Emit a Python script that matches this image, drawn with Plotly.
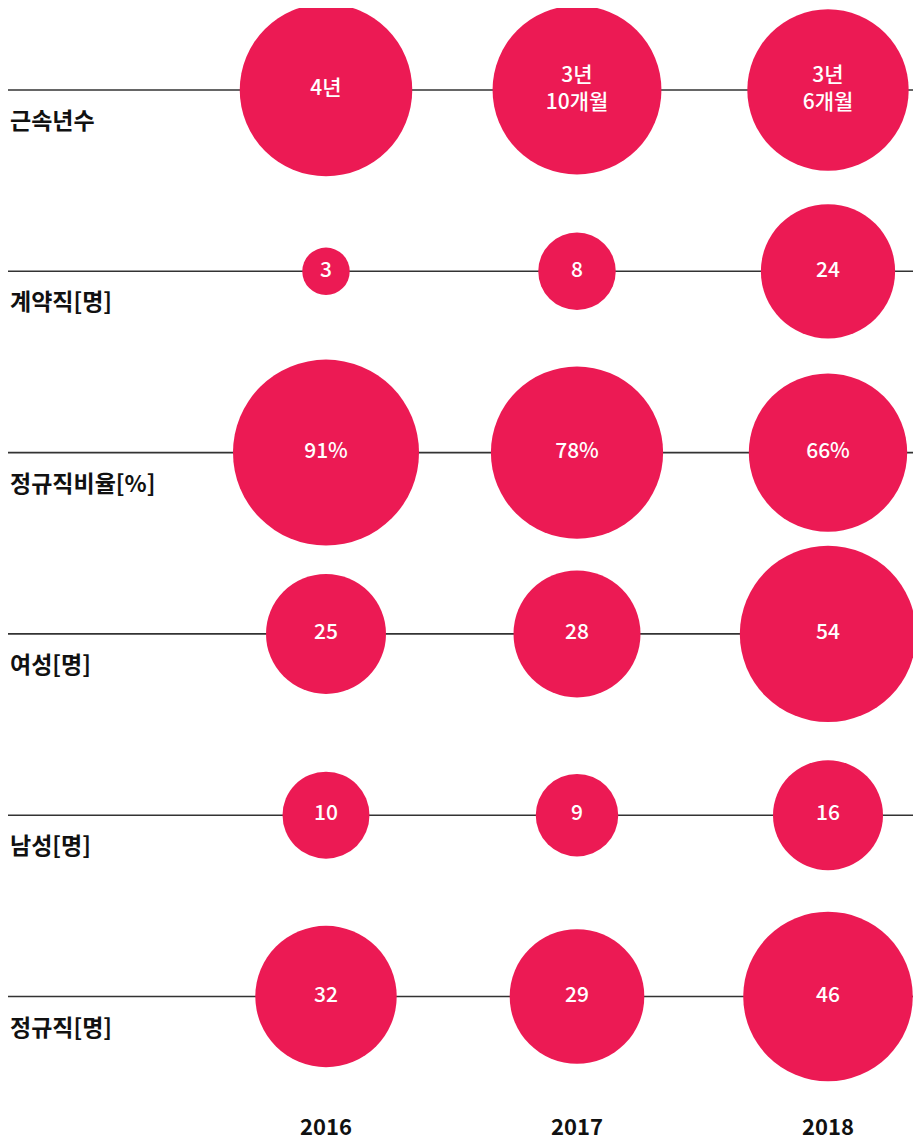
import plotly.graph_objects as go
import math

years = ["2016", "2017", "2018"]
row_labels = ["근속년수", "계약직[명]", "정규직비율[%]", "여성[명]", "남성[명]", "정규직[명]"]
# values (근속년수 in months)
tenure_months = [48, 46, 42]
contract = [3, 8, 24]
regular_ratio = [91, 78, 66]
female = [25, 28, 54]
male = [10, 9, 16]
regular = [32, 29, 46]

tenure_text = ["4년", "3년<br>10개월", "3년<br>6개월"]
contract_text = [str(v) for v in contract]
ratio_text = [f"{v}%" for v in regular_ratio]
female_text = [str(v) for v in female]
male_text = [str(v) for v in male]
regular_text = [str(v) for v in regular]

rows = [
    (tenure_months, tenure_text, 24.9),
    (contract, contract_text, 27.4),
    (regular_ratio, ratio_text, 19.5),
    (female, female_text, 24.0),
    (male, male_text, 27.5),
    (regular, regular_text, 25.0),
]

OFF = 8  # page body margin
W, H = 921 - OFF, 1141 - OFF
col_px = 251.0
row_px = 181.3
x0_px = 326.0 - OFF
y0_px = 90.0 - OFF

COLOR = "#EC1A54"
FONT = "Noto Sans CJK KR"

fig = go.Figure()

xs = [0, 1, 2]
for i, (vals, texts, k) in enumerate(rows):
    sizes = [k * math.sqrt(v) for v in vals]
    fig.add_shape(type="line", xref="paper", yref="y",
                  x0=0, x1=(915 - OFF) / W, y0=i, y1=i,
                  line=dict(color="#333333", width=1.6), layer="below")
    fig.add_trace(go.Scatter(
        x=xs, y=[i] * 3, mode="markers+text",
        marker=dict(size=sizes, sizemode="diameter", color=COLOR,
                    line=dict(width=0), opacity=1),
        text=texts, textposition="middle center",
        textfont=dict(color="white", size=21, family=FONT, weight=500),
        hoverinfo="skip", showlegend=False, cliponaxis=False,
    ))
    fig.add_annotation(xref="paper", yref="y", x=0, y=i,
                       text=f"<b>{row_labels[i]}</b>", showarrow=False,
                       xanchor="left", yanchor="middle", yshift=-29,
                       font=dict(size=23, color="#111111", family=FONT))

for j, yr in enumerate(years):
    fig.add_annotation(x=j, y=5, xref="x", yref="y", text=f"<b>{yr}</b>",
                       showarrow=False, xanchor="center", yanchor="middle",
                       yshift=-(1125 - 997),
                       font=dict(size=22, color="#111111", family=FONT))

fig.update_xaxes(range=[-x0_px / col_px, (W - x0_px) / col_px], visible=False, fixedrange=True)
fig.update_yaxes(range=[(H - y0_px) / row_px, -y0_px / row_px], visible=False, fixedrange=True)
fig.update_layout(width=W, height=H, margin=dict(l=0, r=0, t=0, b=0),
                  plot_bgcolor="white", paper_bgcolor="white")

fig.write_html("out.html")
